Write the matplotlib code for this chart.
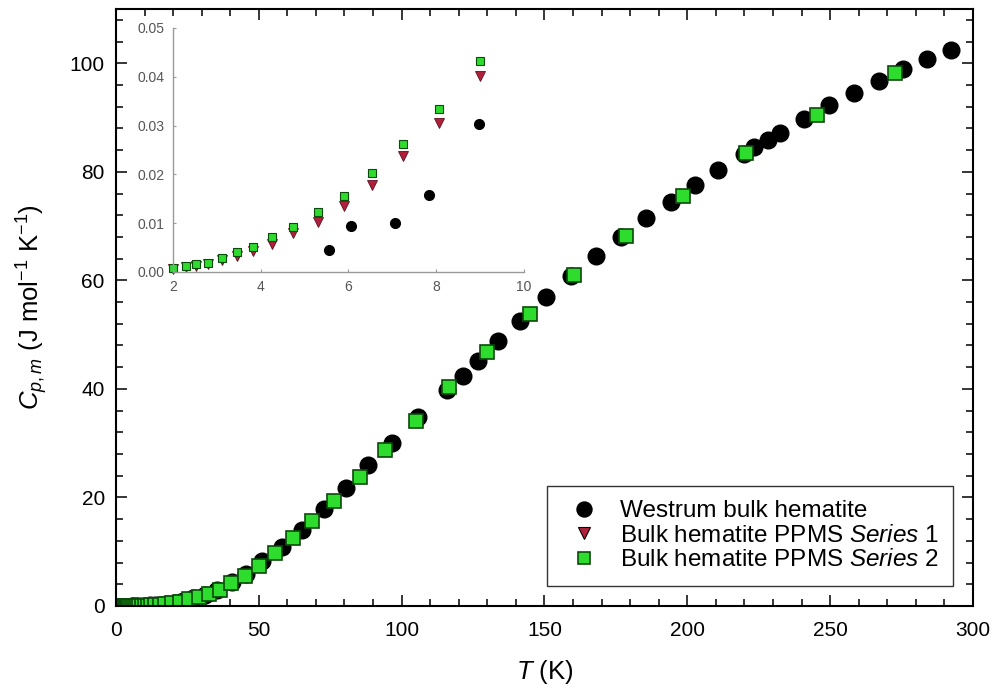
import matplotlib
matplotlib.use("Agg")
import matplotlib.pyplot as plt
from matplotlib.ticker import MultipleLocator, FormatStrFormatter

plt.rcParams['font.family'] = ['Liberation Sans', 'DejaVu Sans']
plt.rcParams['mathtext.fontset'] = 'custom'
plt.rcParams['mathtext.rm'] = 'Liberation Sans'
plt.rcParams['mathtext.it'] = 'Liberation Sans:italic'

# Westrum bulk hematite
westrum_T = [5.55, 6.06, 7.06, 7.84, 8.98, 10.5, 12.0, 13.8, 15.8, 18.0, 20.5, 23.5,
             27.0, 31.0, 35.5, 40.5, 45.5, 51.1, 58.1, 65.1, 73.0, 80.6, 88.3, 96.5,
             105.6, 115.9, 121.4, 126.8, 133.8, 141.6, 150.7, 159.4, 168.1, 176.9,
             185.7, 194.2, 202.7, 210.9, 219.7, 223.4, 228.1, 232.5, 240.9, 249.7,
             258.4, 267.0, 275.6, 283.8, 292.3]
westrum_Cp = [0.0045, 0.0095, 0.0101, 0.0158, 0.0304, 0.05, 0.09, 0.14, 0.22, 0.35,
              0.55, 0.85, 1.4, 2.0, 3.0, 4.4, 5.9, 8.2, 10.8, 14.0, 17.8, 21.7, 25.9,
              30.0, 34.9, 39.8, 42.4, 45.2, 48.8, 52.5, 56.9, 60.8, 64.5, 68.0, 71.4,
              74.5, 77.5, 80.3, 83.2, 84.6, 85.9, 87.2, 89.8, 92.3, 94.5, 96.7, 98.9,
              100.7, 102.5]

# PPMS series 1
s1_T = [2.0, 2.29, 2.53, 2.8, 3.12, 3.46, 3.82, 4.25, 4.74, 5.30, 5.89, 6.53, 7.25,
        8.07, 9.0, 10.0, 11.1, 12.4, 13.8, 15.4, 17.2, 19.5]
s1_Cp = [0.0007, 0.0010, 0.0012, 0.0017, 0.0024, 0.0032, 0.0043, 0.0058, 0.0079,
         0.0103, 0.0135, 0.0178, 0.0238, 0.0305, 0.0402, 0.055, 0.075, 0.11, 0.16,
         0.23, 0.34, 0.55]

# PPMS series 2
s2_T = [2.0, 2.29, 2.53, 2.8, 3.12, 3.46, 3.82, 4.25, 4.74, 5.30, 5.89, 6.53, 7.25,
        8.07, 9.0, 10.0, 11.1, 12.4, 13.8, 15.4, 17.2, 19.5, 22.4, 25.4, 28.9, 32.4,
        36.5, 40.3, 45.0, 49.9, 55.5, 62.0, 68.6, 76.5, 85.3, 94.3, 105.2, 116.5,
        129.9, 144.8, 160.5, 178.6, 198.6, 220.4, 245.4, 272.7]
s2_Cp = [0.0008, 0.0012, 0.0016, 0.0019, 0.0029, 0.0040, 0.0051, 0.0071, 0.0092,
         0.0123, 0.0155, 0.0203, 0.0262, 0.0334, 0.0433, 0.06, 0.08, 0.12, 0.17, 0.25,
         0.36, 0.6, 0.8, 1.2, 1.7, 2.2, 3.0, 4.2, 5.6, 7.4, 9.8, 12.5, 15.7, 19.3,
         23.7, 28.7, 34.1, 40.3, 46.8, 53.8, 60.9, 68.2, 75.6, 83.4, 90.5, 98.2]

labels = ['Westrum bulk hematite',
          'Bulk hematite PPMS $\\mathit{Series}$ 1',
          'Bulk hematite PPMS $\\mathit{Series}$ 2']

green = '#2edc2e'
green_edge = '#0a4a0a'
red = '#b0203a'

fig = plt.figure(figsize=(9.97, 6.92), dpi=100)
ax = fig.add_axes([0.1163, 0.1243, 0.8596, 0.8627])

ax.plot(westrum_T, westrum_Cp, 'o', color='black', ms=12, ls='none', label=labels[0])
ax.plot(s1_T, s1_Cp, 'v', color=red, mec='black', mew=0.8, ms=10, ls='none', label=labels[1])
ax.plot(s2_T, s2_Cp, 's', color=green, mec=green_edge, mew=1.2, ms=9.5, ls='none', label=labels[2])

ax.set_xlim(0, 300)
ax.set_ylim(0, 110)
ax.xaxis.set_major_locator(MultipleLocator(50))
ax.xaxis.set_minor_locator(MultipleLocator(10))
ax.yaxis.set_major_locator(MultipleLocator(20))
ax.yaxis.set_minor_locator(MultipleLocator(4))
ax.tick_params(which='both', direction='in', top=True, right=True, labelsize=15,
               width=1.1, colors='black')
ax.tick_params(which='major', length=8)
ax.tick_params(which='minor', length=5)
ax.tick_params(axis='x', which='major', pad=11)
ax.tick_params(axis='y', which='major', pad=8)
for sp in ax.spines.values():
    sp.set_linewidth(1.5)

ax.set_xlabel('$T$ (K)', fontsize=18.5, labelpad=13)
ax.set_ylabel('$C_{p,m}$ (J mol$^{-1}$ K$^{-1}$)', fontsize=18.5, labelpad=14)

leg = ax.legend(loc='lower right', bbox_to_anchor=(0.977, 0.034), borderaxespad=0,
                fontsize=17.5, frameon=True, fancybox=False, edgecolor='black',
                handlelength=1.9, handletextpad=0.5, borderpad=0.6,
                labelspacing=0.1, markerscale=0.9)
leg.get_frame().set_linewidth(1.0)

# inset
ins = fig.add_axes([0.1735, 0.607, 0.352, 0.3526])
wi = [(t, c) for t, c in zip(westrum_T, westrum_Cp) if t <= 10 and c <= 0.05]
s1i = [(t, c) for t, c in zip(s1_T, s1_Cp) if t <= 10 and c <= 0.05]
s2i = [(t, c) for t, c in zip(s2_T, s2_Cp) if t <= 10 and c <= 0.05]
ins.plot([p[0] for p in wi], [p[1] for p in wi], 'o', color='black', ms=7, ls='none', clip_on=False)
ins.plot([p[0] for p in s1i], [p[1] for p in s1i], 'v', color=red, mec='#5a1020', mew=0.6, ms=7, ls='none', clip_on=False)
ins.plot([p[0] for p in s2i], [p[1] for p in s2i], 's', color=green, mec=green_edge, mew=0.8, ms=6, ls='none', clip_on=False)
ins.set_xlim(2, 10)
ins.set_ylim(0, 0.05)
ins.xaxis.set_major_locator(MultipleLocator(2))
ins.yaxis.set_major_locator(MultipleLocator(0.01))
ins.yaxis.set_major_formatter(FormatStrFormatter('%.2f'))
ins.spines['top'].set_visible(False)
ins.spines['right'].set_visible(False)
for s in ['left', 'bottom']:
    ins.spines[s].set_color('#999999')
    ins.spines[s].set_linewidth(1.0)
ins.tick_params(direction='in', length=2, colors='#999999', labelcolor='#555555',
                labelsize=10, pad=6)
ins.patch.set_alpha(0)

fig.savefig('out.png', dpi=100)
